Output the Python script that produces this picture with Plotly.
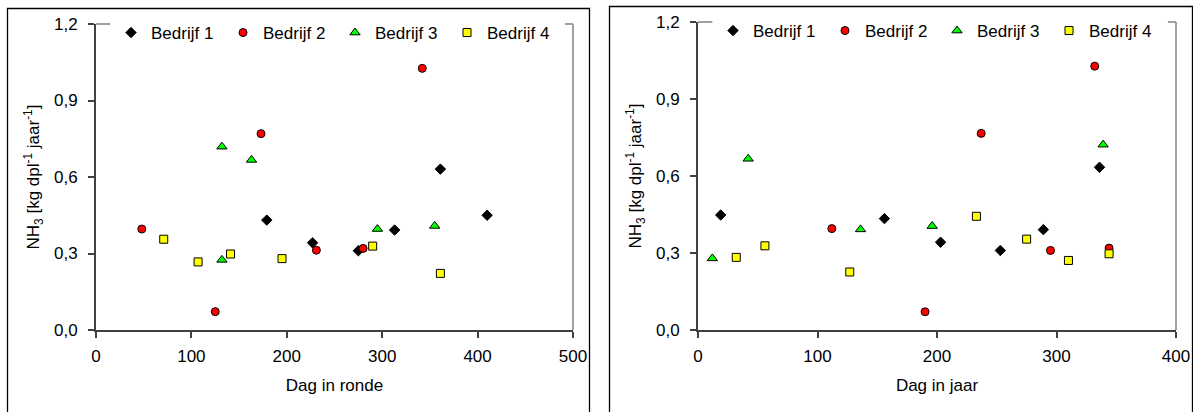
import plotly.graph_objects as go

W, H = 1193, 412

# ---- data: left chart (Dag in ronde) ----
ronde_b1_x = [179, 227, 275, 313, 361, 410]
ronde_b1_y = [0.431, 0.342, 0.311, 0.392, 0.631, 0.450]
ronde_b2_x = [48, 125, 173, 231, 280, 342]
ronde_b2_y = [0.396, 0.072, 0.770, 0.313, 0.320, 1.026]
ronde_b3_x = [132, 163, 132, 295, 355]
ronde_b3_y = [0.719, 0.667, 0.275, 0.396, 0.408]
ronde_b4_x = [71, 107, 141, 195, 290, 361]
ronde_b4_y = [0.356, 0.267, 0.298, 0.280, 0.329, 0.222]

# ---- data: right chart (Dag in jaar) ----
jaar_b1_x = [19, 156, 203, 253, 289, 336]
jaar_b1_y = [0.448, 0.434, 0.342, 0.310, 0.391, 0.634]
jaar_b2_x = [112, 190, 237, 295, 332, 344]
jaar_b2_y = [0.395, 0.071, 0.766, 0.310, 1.028, 0.319]
jaar_b3_x = [12, 42, 136, 196, 339]
jaar_b3_y = [0.279, 0.667, 0.392, 0.405, 0.722]
jaar_b4_x = [32, 56, 127, 233, 275, 310, 344]
jaar_b4_y = [0.283, 0.328, 0.226, 0.443, 0.354, 0.271, 0.297]

names = ["Bedrijf 1", "Bedrijf 2", "Bedrijf 3", "Bedrijf 4"]
symbols = ["diamond", "circle", "triangle-up", "square"]
colors = ["#000000", "#ff0000", "#00ff00", "#ffff00"]
sizes = [8, 8, 9, 8]

x_ticks_ronde = [0, 100, 200, 300, 400, 500]
x_ticks_jaar = [0, 100, 200, 300, 400]
y_ticks = [0.0, 0.3, 0.6, 0.9, 1.2]

FONT = "Liberation Sans, Arial, sans-serif"
AX = "#404040"
BORDER = "#a0a0a0"

fig = go.Figure()

left = [(ronde_b1_x, ronde_b1_y), (ronde_b2_x, ronde_b2_y), (ronde_b3_x, ronde_b3_y), (ronde_b4_x, ronde_b4_y)]
right = [(jaar_b1_x, jaar_b1_y), (jaar_b2_x, jaar_b2_y), (jaar_b3_x, jaar_b3_y), (jaar_b4_x, jaar_b4_y)]

for i, (xs, ys) in enumerate(left):
    fig.add_trace(go.Scatter(
        x=xs, y=ys, mode="markers", name=names[i], xaxis="x", yaxis="y", legend="legend",
        marker=dict(symbol=symbols[i], color=colors[i], size=sizes[i],
                    line=dict(color="#000000", width=1)),
    ))
for i, (xs, ys) in enumerate(right):
    fig.add_trace(go.Scatter(
        x=xs, y=ys, mode="markers", name=names[i], xaxis="x2", yaxis="y2", legend="legend2",
        marker=dict(symbol=symbols[i], color=colors[i], size=sizes[i],
                    line=dict(color="#000000", width=1)),
    ))

def px_x(p):
    return p / W

def px_y(p):
    return 1 - p / H

common_x = dict(showline=True, linecolor=AX, linewidth=2, ticks="outside", ticklen=6,
                tickwidth=2, tickcolor=AX, showgrid=False, zeroline=False,
                tickfont=dict(size=17, color="#000000", family=FONT),
                ticklabelstandoff=4)
common_y = dict(showline=True, linecolor=AX, linewidth=2, ticks="outside", ticklen=6,
                tickwidth=2, tickcolor=AX, showgrid=False, zeroline=False,
                tickfont=dict(size=17, color="#000000", family=FONT),
                tickvals=y_ticks, tickformat=".1f", range=[0, 1.2],
                ticklabelstandoff=7)

ytitle = "NH<sub>3</sub> [kg dpl<sup>-1</sup> jaar<sup>-1</sup>]"

fig.update_layout(
    width=W, height=H,
    margin=dict(l=0, r=0, t=0, b=0),
    paper_bgcolor="white", plot_bgcolor="white",
    separators=",.",
    font=dict(family=FONT, size=17, color="#000000"),
    xaxis=dict(common_x, domain=[px_x(96), px_x(573)], range=[0, 500], tickvals=x_ticks_ronde,
               anchor="y", title=dict(text="Dag in ronde", standoff=14, font=dict(size=17, family=FONT))),
    yaxis=dict(common_y, domain=[px_y(330), px_y(24)], anchor="x",
               title=dict(text=ytitle, standoff=10, font=dict(size=17, family=FONT))),
    xaxis2=dict(common_x, domain=[px_x(698), px_x(1176)], range=[0, 400], tickvals=x_ticks_jaar,
                anchor="y2", title=dict(text="Dag in jaar", standoff=14, font=dict(size=17, family=FONT))),
    yaxis2=dict(common_y, domain=[px_y(330), px_y(22)], anchor="x2",
                title=dict(text=ytitle, standoff=10, font=dict(size=17, family=FONT))),
    legend=dict(orientation="h", x=px_x(111), xanchor="left", y=px_y(33), yanchor="middle",
                bgcolor="rgba(0,0,0,0)", font=dict(size=17), entrywidth=67, itemwidth=30,
                tracegroupgap=0),
    legend2=dict(orientation="h", x=px_x(713), xanchor="left", y=px_y(31), yanchor="middle",
                 bgcolor="rgba(0,0,0,0)", font=dict(size=17), entrywidth=67, itemwidth=30,
                 tracegroupgap=0),
    showlegend=True,
)

for ax in ["xaxis", "yaxis", "xaxis2", "yaxis2"]:
    fig.layout[ax].automargin = False

shapes = []
# outer frames
shapes.append(dict(type="rect", xref="paper", yref="paper", x0=px_x(7.5), x1=px_x(589.5),
                   y0=px_y(430), y1=px_y(8.5), line=dict(color="#000000", width=1.3)))
shapes.append(dict(type="rect", xref="paper", yref="paper", x0=px_x(609.5), x1=px_x(1192.5),
                   y0=px_y(430), y1=px_y(6.5), line=dict(color="#000000", width=1.3)))
# plot area borders (top stubs and right side), gray
for xd, yd in [("x domain", "y domain"), ("x2 domain", "y2 domain")]:
    shapes += [
        dict(type="line", xref=xd, yref=yd, x0=0, x1=0.03, y0=1, y1=1,
             line=dict(color=BORDER, width=2)),
        dict(type="line", xref=xd, yref=yd, x0=0.983, x1=1, y0=1, y1=1,
             line=dict(color=BORDER, width=2)),
        dict(type="line", xref=xd, yref=yd, x0=1, x1=1, y0=0, y1=1,
             line=dict(color=BORDER, width=2)),
    ]
fig.update_layout(shapes=shapes)

fig.write_html("out.html", config={"displayModeBar": False},
               post_script="document.body.style.margin='0';document.body.style.overflow='hidden';")
